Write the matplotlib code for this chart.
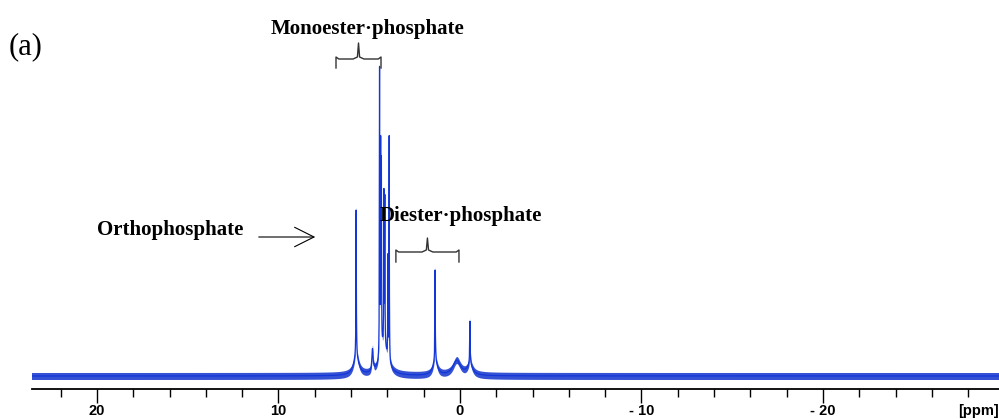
import numpy as np
import matplotlib
matplotlib.use("Agg")
import matplotlib.pyplot as plt

# peak table: shift (ppm), height (px above baseline), half width (ppm)
peak_ppm = [5.72, 5.72, 4.82, 4.43, 4.37, 4.33, 4.19, 4.14, 3.97, 3.90, 4.20,
            1.37, 1.37, 0.18, -0.55, -0.55]
peak_height = [147, 18, 22, 285, 200, 180, 149, 145, 100, 225, 30,
               91, 14, 15, 43, 10]
peak_width = [0.012, 0.18, 0.04, 0.01, 0.01, 0.01, 0.01, 0.01, 0.01, 0.01, 0.25,
              0.012, 0.15, 0.25, 0.015, 0.18]

major_ticks = [20, 10, 0, -10, -20]
major_labels = ["20", "10", "0", "- 10", "- 20"]
minor_ticks = list(range(22, -29, -2))

blue = "#1236d8"

ppm = np.arange(-29.8, 23.7, 0.001)
spec = np.zeros_like(ppm)
for p0, h, w in zip(peak_ppm, peak_height, peak_width):
    spec += h / (1 + ((ppm - p0) / w) ** 2)

fig = plt.figure(figsize=(9.99, 4.19), dpi=100)
ax = fig.add_axes([32 / 999, 30 / 419, 967 / 999, 389 / 419])

ax.fill_between(ppm, spec - 3.5, spec + 3.5, color="#1f3fd0", alpha=0.9, lw=0)
ax.plot(ppm, spec, color=blue, lw=0.9)

ax.set_xlim(23.58, -29.7)
ax.set_ylim(-13, 376)
for s in ["top", "left", "right"]:
    ax.spines[s].set_visible(False)
ax.spines["bottom"].set_linewidth(1.3)
ax.set_yticks([])
ax.set_xticks(major_ticks)
ax.set_xticklabels(major_labels, fontfamily="Liberation Sans", fontweight="bold", fontsize=10.5)
ax.set_xticks(minor_ticks, minor=True)
ax.tick_params(axis="x", which="major", length=10, width=1, pad=1)
ax.tick_params(axis="x", which="minor", length=6, width=1)
ax.text(1.0, -0.057, "[ppm]", transform=ax.transAxes, ha="right", va="center",
        fontfamily="Liberation Sans", fontweight="bold", fontsize=10.5)

lab = dict(fontfamily="Liberation Serif", fontweight="bold", fontsize=15,
           ha="center", va="center")
ax.text(5.12, 347, "Monoester·phosphate", **lab)
ax.text(-0.06, 160, "Diester·phosphate", **lab)
ax.text(15.98, 146, "Orthophosphate", **lab)
ax.annotate("", xy=(7.82, 139), xytext=(11.24, 139),
            arrowprops=dict(arrowstyle="->,head_length=1.4,head_width=0.7", color="black", lw=0.8))


def brace(left, right, end, flat, tip):
    c = (left + right) / 2
    rx = 0.15
    xs = [left, left, left - rx, c + 2 * rx, c + 0.4 * rx, c, c - 0.4 * rx, c - 2 * rx,
          right + rx, right, right]
    ys = [end, flat + 2, flat, flat, flat + 2, tip, flat + 2, flat, flat, flat + 2, end]
    ax.plot(xs, ys, color="#333333", lw=1)


brace(6.83, 4.35, 308, 317, 333)
brace(3.53, 0.055, 114, 124, 138)

fig.text(26 / 999, 1 - 47 / 419, "(a)", fontfamily="Liberation Serif", fontsize=22,
         ha="center", va="center")

fig.savefig("out.png", dpi=100)
